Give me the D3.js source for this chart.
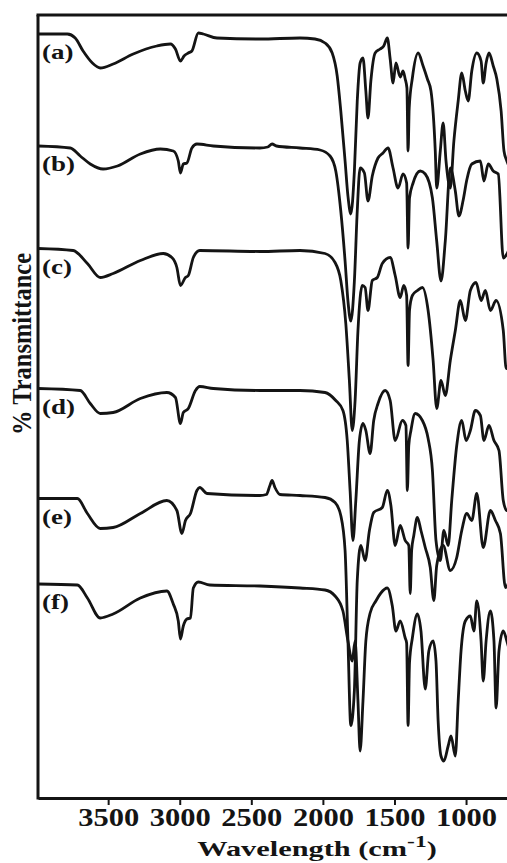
<!DOCTYPE html>
<html>
<head>
<meta charset="utf-8">
<script src="https://cdn.jsdelivr.net/npm/d3@7"></script>
<style>
  body { margin: 0; background: #fff; }
  svg { display: block; }
</style>
</head>
<body>
<svg id="chart" width="507" height="863"></svg>
<script>
// tick values on the wavenumber axis
const waveTicks = [3500, 3000, 2500, 2000, 1500, 1000];
const seriesLabels = ['(a)', '(b)', '(c)', '(d)', '(e)', '(f)'];
// vertical stacking offset of each spectrum (same units as %T)
const offsets = [220, 176, 135, 79, 37, 0];

// spectra: [wavenumber cm-1, %T]
const specA = [[3990,101.6],[3785,101.6],[3730,100],[3675,94.8],[3610,90],[3555,88],[3465,89.6],[3325,93.6],[3160,96.8],[3065,97.6],[3030,95.6],[2995,90.8],[2970,92.8],[2940,94],[2915,94.8],[2870,102],[2835,101.6],[2740,100],[2440,99.6],[2160,100],[2055,99.6],[1985,98],[1935,94],[1900,84.8],[1875,70.8],[1845,50.8],[1825,36.8],[1805,29.6],[1780,46.8],[1760,74.8],[1740,90],[1720,92],[1700,78.8],[1685,68],[1665,82.8],[1635,94],[1600,95.6],[1575,96.8],[1550,100],[1530,91.6],[1510,82],[1490,90],[1460,84.4],[1440,86.8],[1425,83.6],[1413,80],[1405,54.8],[1397,72],[1375,84],[1335,94],[1300,88.8],[1270,83.6],[1245,78.8],[1215,54.8],[1205,40],[1180,54.8],[1160,66],[1140,50.8],[1110,40],[1085,58.8],[1055,74.8],[1030,86],[1005,78.8],[985,74.8],[960,86.8],[925,94],[895,90.8],[880,82],[860,90],[840,94],[810,88.8],[785,83.6],[755,70.8],[735,54.8],[715,50.8],[680,46.8]];
const specB = [[3990,100.8],[3765,100],[3695,96.8],[3625,93.6],[3535,91.6],[3435,92.8],[3275,97.6],[3135,99.6],[3045,98.8],[3010,94.8],[2995,90],[2975,93.6],[2950,94],[2915,100],[2880,101.6],[2765,100.8],[2440,100],[2385,100.4],[2355,101.6],[2325,100.8],[2160,100],[2020,99.2],[1950,96.8],[1910,90.8],[1875,74.8],[1845,54.8],[1825,38.8],[1805,30.8],[1780,46.8],[1760,74.8],[1740,92],[1710,90],[1685,78.8],[1655,88.8],[1615,96],[1580,98],[1545,100],[1510,92],[1475,84],[1440,89.6],[1415,86],[1405,60],[1395,80],[1370,86],[1320,90.8],[1285,89.6],[1235,80],[1205,62.8],[1175,46.8],[1145,62.8],[1110,92],[1075,82.8],[1050,72.8],[1020,79.2],[995,87.2],[960,93.6],[900,94.8],[875,86.8],[845,93.6],[810,90.8],[775,89.6],[740,56],[715,57.6],[680,62.8]];
const specC = [[3990,100.8],[3745,100],[3645,94.8],[3555,89.2],[3465,90.8],[3275,96],[3115,98.8],[3055,97.2],[3020,93.2],[2995,86],[2960,89.2],[2940,90],[2905,97.2],[2860,100],[2440,99.6],[2160,100],[1985,98.8],[1915,95.2],[1875,88],[1840,70.8],[1815,48],[1795,28],[1775,40],[1755,68],[1725,86],[1705,85.2],[1685,76],[1655,88],[1620,89.2],[1585,94.8],[1530,97.2],[1495,90],[1460,81.2],[1435,86],[1415,82],[1405,54],[1395,76],[1375,82],[1340,84],[1305,85.2],[1265,76],[1230,56],[1205,36.8],[1175,48],[1145,42],[1110,56],[1075,68],[1040,80],[1005,72],[970,84],[930,87.2],[895,80],[865,84],[830,76],[790,80],[740,68],[720,52.8],[680,60]];
const specD = [[3990,100.8],[3695,100],[3625,94.8],[3555,90.8],[3465,91.2],[3275,96.8],[3090,99.2],[3030,97.2],[2995,86.8],[2975,91.2],[2940,92.8],[2890,100],[2860,101.6],[2765,100.8],[2440,100],[2160,100],[1985,99.2],[1910,96],[1860,92],[1830,80],[1810,60],[1790,40],[1770,56],[1745,80],[1720,86.8],[1700,84],[1670,74.8],[1645,88],[1615,94.8],[1565,100],[1530,96],[1495,80],[1445,88],[1420,86],[1410,60],[1400,78],[1385,84],[1355,90.8],[1305,88],[1265,80.8],[1235,68],[1210,40],[1180,32],[1155,44],[1125,38],[1100,56],[1065,78],[1030,88],[1000,80],[970,84],[935,92],[900,90],[875,80],[840,86],[805,80],[770,76],[740,56],[715,52],[680,60]];
const specE = [[3990,98.8],[3715,98.8],[3645,92.8],[3555,86.8],[3465,87.2],[3275,92.8],[3090,98],[3020,94],[2985,84.8],[2960,90],[2925,92.8],[2880,102],[2860,103.2],[2810,100.8],[2440,100],[2395,100.4],[2370,104],[2355,106],[2335,103.2],[2300,100.4],[2160,100],[1985,99.2],[1915,97.2],[1875,92],[1845,78],[1825,42],[1805,8],[1780,22],[1760,66],[1735,80],[1705,74],[1675,86],[1645,93.2],[1585,95.2],[1550,102],[1525,96],[1495,80],[1460,88],[1425,82],[1400,80],[1390,60.8],[1380,78],[1365,84],[1340,91.2],[1315,86],[1285,79.2],[1250,71.2],[1225,58],[1205,72],[1160,80],[1110,70],[1065,75.2],[1030,86],[995,92.8],[960,90],[925,100.8],[880,79.2],[830,94],[795,90],[760,84.8],[725,63.2],[680,70]];
const specF = [[3990,101.6],[3715,101.2],[3645,96],[3555,88],[3465,89.6],[3275,96],[3090,98.8],[3045,93.6],[3010,86.8],[2995,79.6],[2975,84.8],[2950,87.6],[2925,88],[2905,100],[2870,102.4],[2790,101.2],[2440,100.8],[2160,100],[1985,99.2],[1915,96.8],[1860,90.8],[1825,78.8],[1795,70.8],[1775,78.8],[1755,54.8],[1740,34.8],[1720,54.8],[1700,78.8],[1670,90],[1630,94.8],[1595,98],[1550,100],[1515,92.8],[1490,82.8],[1460,86.8],[1425,80],[1415,78],[1405,45],[1395,70],[1375,80],[1340,89.6],[1315,82.8],[1285,59.6],[1260,74.8],[1230,78.8],[1210,70.8],[1195,46.8],[1175,32.8],[1155,30.8],[1125,36.8],[1105,40.8],[1075,32.8],[1055,54.8],[1035,74.8],[1005,86.8],[970,88.8],[945,82.8],[925,94.8],[895,78.8],[880,62.8],[860,78.8],[830,90.8],[805,78.8],[790,52],[770,74.8],[740,82.8],[715,78.8],[680,70.8]];

const spectra = [specA, specB, specC, specD, specE, specF];

const MARGINS = { top: 15, bottom: 798, left: 38, right: 509 };
const INK = '#141414';
const SERIF = '"Liberation Serif", "Times New Roman", serif';

const svg = d3.select('#chart');

const x = d3.scaleLinear()
  .domain([3990, 700])
  .range([MARGINS.left, MARGINS.right]);

const y = d3.scaleLinear()
  .domain([16, 329.2])
  .range([MARGINS.bottom, MARGINS.top]);

svg.append('clipPath').attr('id', 'plot-clip')
  .append('rect')
  .attr('x', MARGINS.left).attr('y', MARGINS.top)
  .attr('width', 507 - MARGINS.left).attr('height', MARGINS.bottom - MARGINS.top);

const line = d3.line()
  .x(d => x(d[0]))
  .y(d => y(d[1] + d[2]))
  .curve(d3.curveMonotoneX);

svg.append('g').attr('class', 'spectra')
  .attr('clip-path', 'url(#plot-clip)')
  .selectAll('path')
  .data(spectra.map((s, i) => s.map(p => [p[0], p[1], offsets[i]])))
  .join('path')
  .attr('d', line)
  .attr('fill', 'none')
  .attr('stroke', INK)
  .attr('stroke-width', 2.8)
  .attr('stroke-linejoin', 'round');

// series labels, placed just under the left end of each spectrum
svg.append('g').attr('class', 'labels')
  .selectAll('text')
  .data(seriesLabels)
  .join('text')
  .attr('transform', (d, i) => `translate(42, ${y(spectra[i][0][1] + offsets[i]) + 25}) scale(1.35, 1)`)
  .attr('font-family', SERIF)
  .attr('font-weight', 'bold')
  .attr('font-size', 20)
  .attr('fill', INK)
  .text(d => d);

// frame: top and left lines
svg.append('line')
  .attr('x1', MARGINS.left - 1.5).attr('x2', 507)
  .attr('y1', MARGINS.top).attr('y2', MARGINS.top)
  .attr('stroke', INK).attr('stroke-width', 3);
svg.append('line')
  .attr('x1', MARGINS.left).attr('x2', MARGINS.left)
  .attr('y1', MARGINS.top).attr('y2', MARGINS.bottom + 1.5)
  .attr('stroke', INK).attr('stroke-width', 3);

const axisX = svg.append('g')
  .attr('transform', `translate(0, ${MARGINS.bottom})`)
  .call(d3.axisBottom(x).tickValues(waveTicks).tickSize(7).tickSizeOuter(0).tickFormat(d3.format('d')));
axisX.select('.domain').attr('stroke', INK).attr('stroke-width', 3);
axisX.selectAll('.tick line').attr('stroke', INK).attr('stroke-width', 2);
axisX.selectAll('.tick text')
  .attr('fill', INK)
  .attr('font-family', SERIF)
  .attr('font-weight', 'bold')
  .attr('font-size', 25)
  .attr('transform', 'scale(1.22, 1)');

// axis titles
const xTitle = svg.append('text')
  .attr('transform', 'translate(317, 856) scale(1.38, 1)')
  .attr('text-anchor', 'middle')
  .attr('font-family', SERIF)
  .attr('font-weight', 'bold')
  .attr('font-size', 22)
  .attr('fill', INK);
xTitle.append('tspan').text('Wavelength (cm');
xTitle.append('tspan').attr('dy', -9).attr('font-size', 17).text('-1');
xTitle.append('tspan').attr('dy', 9).text(')');

svg.append('text')
  .attr('transform', 'translate(31, 344) rotate(-90)')
  .attr('text-anchor', 'middle')
  .attr('font-family', SERIF)
  .attr('font-weight', 'bold')
  .attr('font-size', 28)
  .attr('textLength', 182)
  .attr('lengthAdjust', 'spacingAndGlyphs')
  .attr('fill', INK)
  .text('% Transmittance');
</script>
</body>
</html>
